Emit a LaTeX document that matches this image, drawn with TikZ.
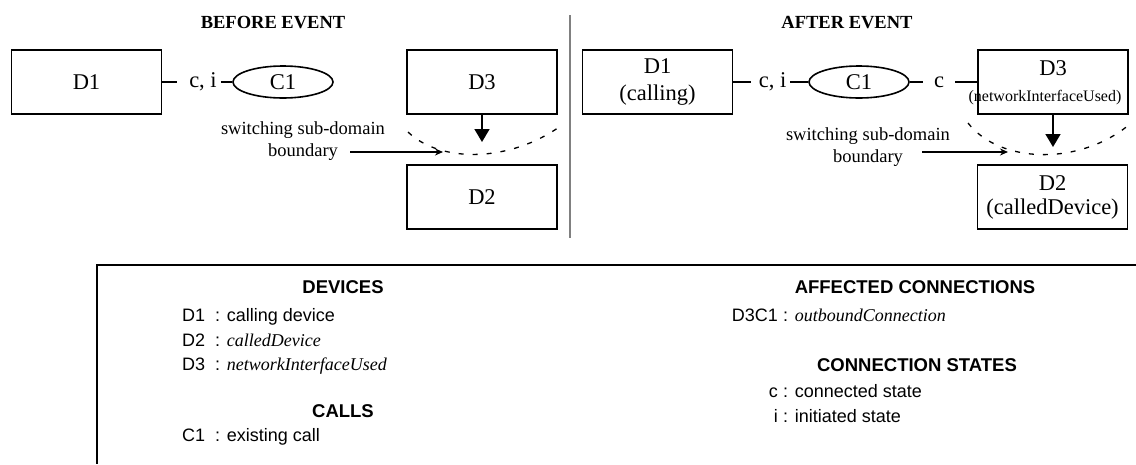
\documentclass[tikz,border=0pt]{standalone}
\usepackage{fontspec}
\setmainfont{Liberation Serif}
\newfontfamily\arialfont{Liberation Sans}
\usetikzlibrary{shapes.geometric,arrows.meta}
\begin{document}
\begin{tikzpicture}[x=1pt,y=-1pt,
  box/.style={draw,line width=1.8pt,minimum width=150pt,minimum height=64pt,inner sep=0pt,align=center,font=\fontsize{22.5}{27}\selectfont},
  call/.style={ellipse,draw,line width=1.6pt,minimum width=100pt,minimum height=32pt,inner sep=0pt,font=\fontsize{22.5}{27}\selectfont},
  lbl/.style={inner sep=0pt,font=\fontsize{22.5}{27}\selectfont},
  small/.style={inner sep=0pt,font=\fontsize{16}{18}\selectfont},
  conn/.style={line width=1.6pt},
  note/.style={align=center,inner sep=0pt,font=\fontsize{18.5}{22}\selectfont},
  title/.style={inner sep=0pt,font=\bfseries\fontsize{18.5}{22}\selectfont},
  bdry/.style={dash pattern=on 5pt off 9pt,line width=1.3pt},
  ptr/.style={line width=1.6pt,-{Stealth[length=8pt,width=7pt]}},
  down/.style={line width=1.6pt,-{Triangle[length=13pt,width=15pt]}},
  leg/.style={inner sep=0pt,anchor=base west,font=\arialfont\fontsize{18}{22}\selectfont},
  lege/.style={inner sep=0pt,anchor=base east,font=\arialfont\fontsize{18}{22}\selectfont},
  legb/.style={inner sep=0pt,anchor=base,font=\arialfont\bfseries\fontsize{18.5}{22}\selectfont},
  sep/.style={line width=1.5pt,black!50}
]
\useasboundingbox (0,0) rectangle (1136,464);
\fill[white] (0,0) rectangle (1136,464);

% ---------- titles and separator ----------
\node[title] (tb) at (273,23) {BEFORE EVENT};
\node[title] (ta) at (847,23) {AFTER EVENT};
\draw[sep] (570,15) -- (570,238);

% ---------- BEFORE EVENT ----------
\node[box] (D1a) at (86.5,82) {D1};
\node[call] (C1a) at (283,82) {C1};
\node[lbl,inner xsep=4pt] (ci1) at (203,82) {c, i};
\draw[conn,shorten >=8pt] (D1a) -- (ci1);
\draw[conn] (ci1) -- (C1a);
\node[box] (D3a) at (482,82) {D3};
\node[box] (D2a) at (482,197) {D2};
\coordinate (tipA) at (482,142);
\draw[down] (D3a) -- (tipA);
\draw[bdry] (408,132) .. controls (440,163) and (510,163) .. (562,125);
\node[note] (sw1) at (303,141) {switching sub-domain\\boundary};
\coordinate (p1s) at (350,152);
\coordinate (p1e) at (443,152);
\draw[ptr] (p1s) -- (p1e);

% ---------- AFTER EVENT ----------
\node[box] (D1b) at (657.5,82) {D1\\(calling)};
\node[call] (C1b) at (859,82) {C1};
\node[lbl,inner xsep=4pt] (ci2) at (772.5,82) {c, i};
\draw[conn,shorten >=4pt] (D1b) -- (ci2);
\draw[conn] (ci2) -- (C1b);
\node[box] (D3b) at (1053,82) {};
\node[lbl] (D3bt) at (1053,68) {D3};
\node[small] (D3bs) at (1045,98) {(networkInterfaceUsed)};
\node[lbl,inner xsep=11pt] (cc2) at (939,82) {c};
\draw[conn] (C1b) -- (cc2);
\draw[conn] (cc2) -- (D3b);
\node[box] (D2b) at (1052.5,197) {D2\\[-3pt](calledDevice)};
\coordinate (tipB) at (1053,147);
\draw[down] (D3b) -- (tipB);
\draw[bdry] (968,123) .. controls (1000,164) and (1080,166) .. (1130,124);
\node[note] (sw2) at (868,147) {switching sub-domain\\boundary};
\coordinate (p2s) at (922,152);
\coordinate (p2e) at (1008,152);
\draw[ptr] (p2s) -- (p2e);

% ---------- legend ----------
\draw[line width=1.8pt] (1136,265) -- (97,265) -- (97,464);

\node[legb] (hdev) at (343,293) {DEVICES};
\node[leg] (k1) at (182,321) {D1};
\node[leg] (v1) at (215,321) {: calling device};
\node[leg] (k2) at (182,346) {D2};
\node[leg] (v2) at (215,346) {: {\rmfamily\itshape calledDevice}};
\node[leg] (k3) at (182,370) {D3};
\node[leg] (v3) at (215,370) {: {\rmfamily\itshape networkInterfaceUsed}};
\node[legb] (hcall) at (343,417) {CALLS};
\node[leg] (k7) at (182,441) {C1};
\node[leg] (v7) at (215,441) {: existing call};

\node[legb] (haff) at (915,293) {AFFECTED CONNECTIONS};
\node[lege] (k4) at (778,321) {D3C1};
\node[leg] (v4) at (783,321) {: {\rmfamily\itshape outboundConnection}};
\node[legb] (hst) at (917,371) {CONNECTION STATES};
\node[lege] (k5) at (778,397) {c};
\node[leg] (v5) at (783,397) {: connected state};
\node[lege] (k6) at (778,422) {i};
\node[leg] (v6) at (783,422) {: initiated state};
\end{tikzpicture}
\end{document}
